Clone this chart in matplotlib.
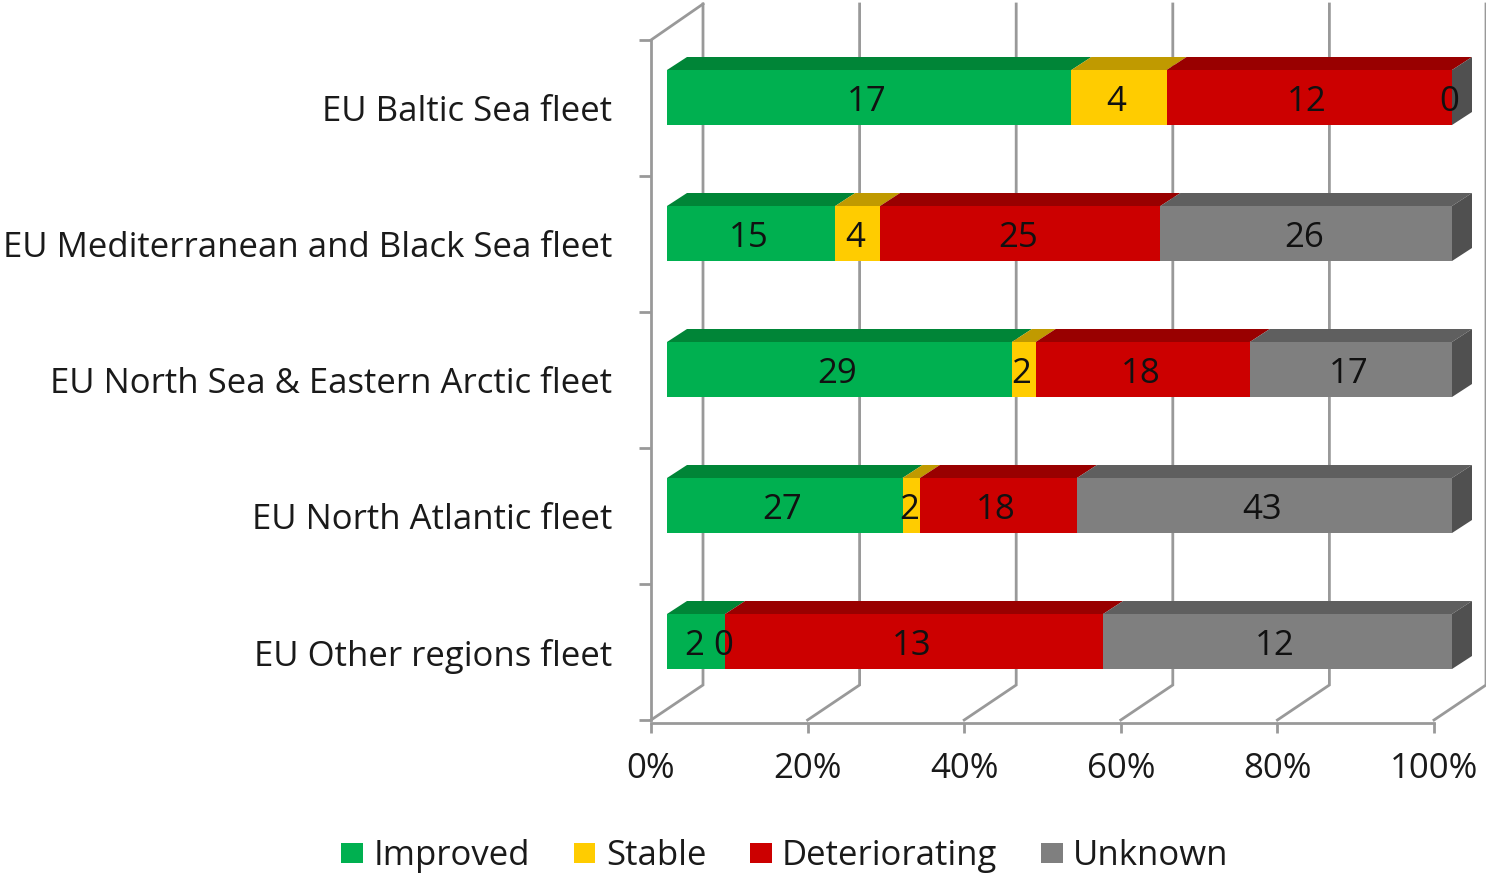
import numpy as np
import matplotlib
matplotlib.use('Agg')
import matplotlib.pyplot as plt
from matplotlib.patches import Patch

plt.rcParams['font.family'] = ['Open Sans', 'DejaVu Sans']

# values
fleets = ['EU Baltic Sea fleet', 'EU Mediterranean and Black Sea fleet',
          'EU North Sea & Eastern Arctic fleet', 'EU North Atlantic fleet',
          'EU Other regions fleet']
improved = [17, 15, 29, 27, 2]
stable = [4, 4, 2, 2, 0]
deteriorating = [12, 25, 18, 18, 13]
unknown = [0, 26, 17, 43, 12]

status = ['Improved', 'Stable', 'Deteriorating', 'Unknown']
face_colors = ['#00B050', '#FFCC00', '#CC0000', '#7F7F7F']
top_colors = ['#008537', '#C09A00', '#990000', '#5F5F5F']
side_color = '#505050'
axis_color = '#999999'
text_color = '#1a1a1a'
pct_ticks = [0, 20, 40, 60, 80, 100]

W, H = 1486, 875
FS = 25


def px_axes(fig, left, top, right, bottom):
    return fig.add_axes([left / W, 1 - bottom / H, (right - left) / W, (bottom - top) / H])


fig = plt.figure(figsize=(W / 100, H / 100), dpi=100)

# 3D "box" behind the bars
ax = px_axes(fig, 651, 40, 1434, 720)
ax.set_xlim(0, 100)
ax.set_ylim(5, 0)
ax.patch.set_alpha(0)
for s in ['top', 'right']:
    ax.spines[s].set_visible(False)
for s in ['left', 'bottom']:
    ax.spines[s].set_color(axis_color)
    ax.spines[s].set_linewidth(2)
ax.spines['bottom'].set_position(('outward', 2))

back_dx = 52 / 7.83
back_dy = 35 / 136
for p in pct_ticks:
    ax.plot([p, p + back_dx, p + back_dx], [5, 5 - back_dy, -36 / 136], color=axis_color,
            lw=2, clip_on=False, zorder=1, solid_joinstyle='miter')
ax.plot([0, back_dx], [0, -36 / 136], color=axis_color, lw=2, clip_on=False, zorder=1)

ax.set_xticks(pct_ticks)
ax.set_xticklabels([f'{p}%' for p in pct_ticks], fontsize=FS, color=text_color)
ax.tick_params(axis='x', length=7, width=2, color=axis_color, pad=14)
ax.set_yticks(range(6))
ax.set_yticklabels([])
ax.set_yticks(np.arange(5) + 0.5, fleets, minor=True, fontsize=FS, color=text_color)
ax.tick_params(axis='y', which='major', length=9, width=2, color=axis_color)
ax.tick_params(axis='y', which='minor', length=0, pad=28)

# bars sit on their own axes, shifted into the box
bx = px_axes(fig, 667, 29.5, 1452, 709.5)
bx.set_xlim(0, 100)
bx.set_ylim(5, 0)
bx.axis('off')

bar_h = 55 / 136
dx = 20 / 7.85
dy = 13 / 136
series = [improved, stable, deteriorating, unknown]
totals = np.sum(series, axis=0)
left = np.zeros(len(fleets))
y = np.arange(5) + 0.5

for vals, fc, tc in zip(series, face_colors, top_colors):
    share = np.array(vals) / totals * 100
    bx.barh(y, share, left=left, height=bar_h, color=fc, zorder=3)
    for i in range(len(fleets)):
        x0, x1 = left[i], left[i] + share[i]
        ytop = y[i] - bar_h / 2
        if share[i] > 0:
            bx.fill([x0, x0 + dx, x1 + dx, x1], [ytop, ytop - dy, ytop - dy, ytop],
                    color=tc, lw=0, zorder=3, clip_on=False)
        bx.text((x0 + x1) / 2 - 0.3, y[i] + 0.03, str(vals[i]), ha='center', va='center',
                fontsize=FS, color='#111111', zorder=5, clip_on=False)
    left = left + share

# right hand end of each bar
for yi in y:
    ytop = yi - bar_h / 2
    bx.fill([100, 100 + dx, 100 + dx, 100], [ytop, ytop - dy, ytop + bar_h - dy, ytop + bar_h],
            color=side_color, lw=0, zorder=3, clip_on=False)

handles = [Patch(facecolor=c, label=s) for c, s in zip(face_colors, status)]
fig.legend(handles=handles, ncols=4, loc='center', bbox_to_anchor=(785 / W, 1 - 856 / H),
           frameon=False, fontsize=FS, labelcolor=text_color, handlelength=0.63, handleheight=0.52,
           handletextpad=0.3, columnspacing=1.25)

fig.savefig('out.png', dpi=100)
